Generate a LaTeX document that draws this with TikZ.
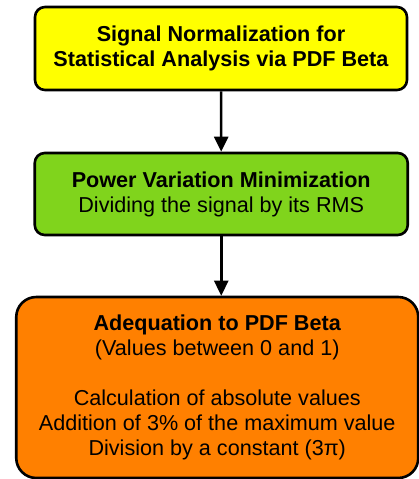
\documentclass[tikz,border=0pt]{standalone}
\usepackage{fontspec}
\setmainfont{Liberation Sans}
\usetikzlibrary{arrows.meta, positioning}
\definecolor{stepyellow}{RGB}{255,255,0}
\definecolor{stepgreen}{RGB}{128,212,28}
\definecolor{steporange}{RGB}{255,128,0}

\begin{document}
\begin{tikzpicture}[x=0.5pt, y=-0.5pt, >={Triangle[length=7.5pt,width=7pt]},
    box/.style={draw, line width=1.3pt, rounded corners=5pt, align=center, inner sep=0pt,
        font=\fontsize{10.8}{12.5}\selectfont},
    flow/.style={->, line width=1.3pt}]
    \useasboundingbox (0,0) rectangle (419,479);

    % normalization steps
    \node[box, fill=stepyellow, minimum width=186pt, minimum height=41.5pt] (norm) at (221,48.5)
        {\textbf{Signal Normalization for}\\ \textbf{Statistical Analysis via PDF Beta}};
    \node[box, fill=stepgreen, minimum width=186.5pt, minimum height=41pt] (power) at (221.25,194)
        {\textbf{Power Variation Minimization}\\ Dividing the signal by its RMS};
    \node[box, fill=steporange, rounded corners=10pt, minimum width=201pt, minimum height=90.5pt] (beta) at (217.25,387.5)
        {\textbf{Adequation to PDF Beta}\\ (Values between 0 and 1)\\[12.5pt]
         Calculation of absolute values\\ Addition of 3\% of the maximum value\\
         Division by a constant (3π)};

    % arrows
    \draw[flow] (norm) -- (power);
    \draw[flow] (power.south) -- (power.south |- beta.north);
\end{tikzpicture}
\end{document}
